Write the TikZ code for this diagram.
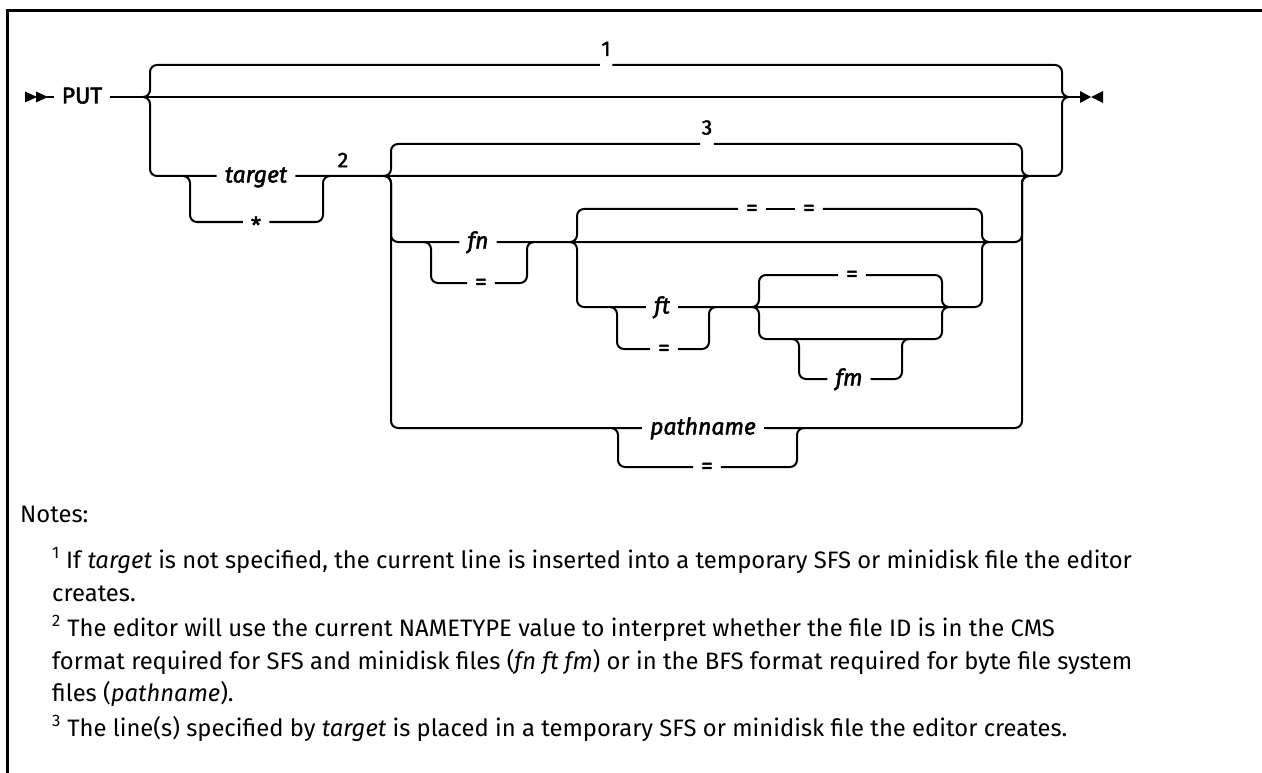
\documentclass[tikz,border=0pt]{standalone}
\usepackage{fontspec}
\setmainfont{Fira Sans}
\newfontfamily\dfont{Fira Sans}[FakeBold=2]
\begin{document}
\begin{tikzpicture}[x=1pt,y=-1pt,
  rail/.style={line width=2pt, rounded corners=7pt},
  lbl/.style={font=\fontsize{23}{27}\selectfont\dfont, inner xsep=8pt, inner ysep=0pt, text height=16pt, text depth=3pt},
  ilbl/.style={lbl, font=\fontsize{23}{27}\selectfont\dfont\itshape},
  numlbl/.style={font=\fontsize{21}{24}\selectfont\dfont, inner xsep=1.5pt, inner ysep=9pt, anchor=south},
  note/.style={font=\fontsize{23.8}{28}\selectfont, anchor=base west, inner sep=0pt}]
\useasboundingbox (0,0) rectangle (1262,773);
% frame
\draw[line width=2.5pt] (7.5,773) -- (7.5,10.5) -- (1262,10.5);

% start / end marks
\coordinate (st) at (25,97);
\coordinate (en) at (1080,97);
\fill (st) ++(0,-5.5) -- ++(12,5.5) -- ++(-12,5.5) -- cycle;
\fill (st) ++(11,-5.5) -- ++(12,5.5) -- ++(-12,5.5) -- cycle;
\fill (en) ++(0,-6) -- ++(11,6) -- ++(-11,6) -- cycle;
\fill (en) ++(23,-6) -- ++(-12,6) -- ++(12,6) -- cycle;

% labels
\node[lbl] (put) at (82,97) {PUT};
\node[numlbl] (n1) at (606,65) {1};
\node[ilbl] (target) at (256,176) {target};
\node[lbl] (star) at (256,222) {\raisebox{-5pt}{*}};
\node[numlbl, inner ysep=0pt, anchor=center] (n2) at (343,160) {2};
\node[numlbl] (n3) at (707,144) {3};
\node[ilbl] (fn) at (478,242) {fn};
\node[lbl] (eqfn) at (481,283) {=};
\node[lbl] (eqa1) at (752,209) {=};
\node[lbl] (eqa2) at (809,209) {=};
\node[ilbl] (ft) at (662,307) {ft};
\node[lbl] (eqft) at (664,349) {=};
\node[lbl] (eqb) at (852,275) {=};
\node[ilbl] (fm) at (849,379) {fm};
\node[ilbl] (pathname) at (703,428) {pathname};
\node[lbl] (eqp) at (707,467) {=};

% main line
\draw[rail] (st) ++(22,0) -- (put.west);
\draw[rail] (put.east) -- (en);
% outer group
\draw[rail] (143,97) -- (150,97) -- (150,65) -- (n1.south west);
\draw[rail] (n1.south east) -- (1062,65) -- (1062,97) -- (1069,97);
\draw[rail] (143,97) -- (150,97) -- (150,176) -- (target.west);
\draw[rail] (target.east) -- (1062,176) -- (1062,97) -- (1069,97);
% target loop
\draw[rail] (183,176) -- (190,176) -- (190,222) -- (star.west);
\draw[rail] (star.east) -- (323,222) -- (323,176) -- (330,176);
% inner group
\draw[rail] (384,176) -- (391,176) -- (391,144) -- (n3.south west);
\draw[rail] (n3.south east) -- (1022,144) -- (1022,176) -- (1029,176);
\draw[rail] (384,176) -- (391,176) -- (391,242) -- (fn.west);
\draw[rail] (fn.east) -- (1022,242) -- (1022,176) -- (1029,176);
\draw[rail] (384,176) -- (391,176) -- (391,428) -- (pathname.west);
\draw[rail] (pathname.east) -- (1022,428) -- (1022,176) -- (1029,176);
% fn loop
\draw[rail] (424,242) -- (431,242) -- (431,283) -- (eqfn.west);
\draw[rail] (eqfn.east) -- (527,283) -- (527,242) -- (534,242);
% group A
\draw[rail] (570,242) -- (577,242) -- (577,209) -- (eqa1.west);
\draw[rail] (eqa1.east) -- (eqa2.west);
\draw[rail] (eqa2.east) -- (982,209) -- (982,242) -- (989,242);
\draw[rail] (570,242) -- (577,242) -- (577,307) -- (ft.west);
\draw[rail] (ft.east) -- (982,307) -- (982,242) -- (989,242);
% ft loop
\draw[rail] (610,307) -- (617,307) -- (617,349) -- (eqft.west);
\draw[rail] (eqft.east) -- (709,349) -- (709,307) -- (716,307);
% group B
\draw[rail] (752,307) -- (759,307) -- (759,275) -- (eqb.west);
\draw[rail] (eqb.east) -- (942,275) -- (942,307) -- (949,307);
\draw[rail] (752,307) -- (759,307) -- (759,339) -- (942,339) -- (942,307) -- (949,307);
% fm loop
\draw[rail] (792,339) -- (799,339) -- (799,379) -- (fm.west);
\draw[rail] (fm.east) -- (902,379) -- (902,339) -- (909,339);
% pathname loop
\draw[rail] (611,428) -- (618,428) -- (618,467) -- (eqp.west);
\draw[rail] (eqp.east) -- (797,467) -- (797,428) -- (804,428);

% notes
\node[note] (notes) at (20,522) {Notes:};
\node[note] (t1a) at (52,568) {\textsuperscript{1} If \textit{target} is not specified, the current line is inserted into a temporary SFS or minidisk file the editor};
\node[note] (t1b) at (52,601) {creates.};
\node[note] (t2a) at (52,636) {\textsuperscript{2} The editor will use the current NAMETYPE value to interpret whether the file ID is in the CMS};
\node[note] (t2b) at (52,669) {format required for SFS and minidisk files (\textit{fn ft fm}) or in the BFS format required for byte file system};
\node[note] (t2c) at (52,701) {files (\textit{pathname}).};
\node[note] (t3) at (52,736) {\textsuperscript{3} The line(s) specified by \textit{target} is placed in a temporary SFS or minidisk file the editor creates.};
\end{tikzpicture}
\end{document}
